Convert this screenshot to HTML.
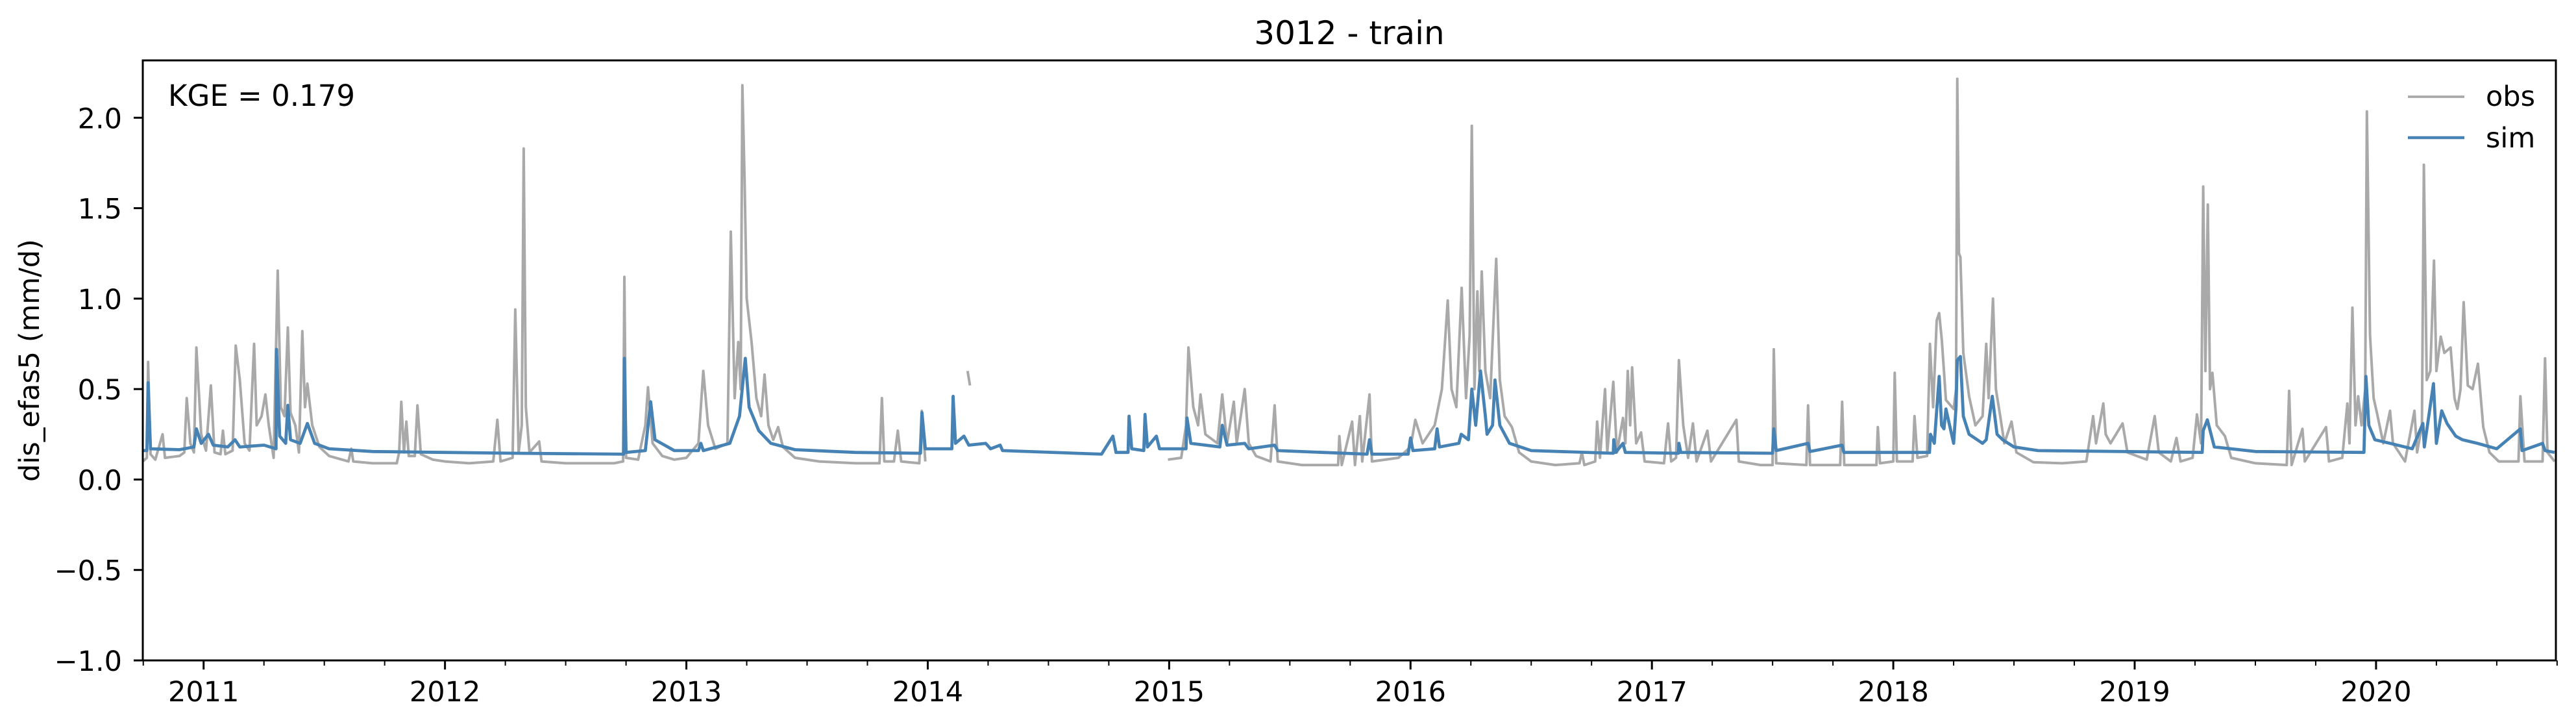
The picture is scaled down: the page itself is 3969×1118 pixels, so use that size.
<!DOCTYPE html>
<html><head><meta charset="utf-8"><style>
html,body{margin:0;padding:0;background:#fff;}
svg{display:block;font-family:"DejaVu Sans","Liberation Sans",sans-serif;}
</style></head><body>
<svg id="chart" width="3969" height="1118" viewBox="0 0 3969 1118" xmlns="http://www.w3.org/2000/svg">
<rect width="3969" height="1118" fill="#fff"/>
<text x="2079" y="68" font-size="50" text-anchor="middle">3012 - train</text>
<text transform="translate(60,555) rotate(-90)" font-size="43" text-anchor="middle">dis_efas5 (mm/d)</text>
<g id="plot"></g>
<g id="axes"></g>
<text x="259" y="163" font-size="45">KGE = 0.179</text>
<g>
<line x1="3710" y1="149" x2="3797" y2="149" stroke="#a9a9a9" stroke-width="3.8"/>
<text x="3830" y="163" font-size="43">obs</text>
<line x1="3710" y1="212" x2="3797" y2="212" stroke="#4682b4" stroke-width="4.5"/>
<text x="3830" y="227" font-size="43">sim</text>
</g>
</svg>
<script>
const yTicks=[-1.0,-0.5,0.0,0.5,1.0,1.5,2.0];
const yTickLabels=["−1.0","−0.5","0.0","0.5","1.0","1.5","2.0"];
const xYears=[2011,2012,2013,2014,2015,2016,2017,2018,2019,2020];
const xYearLabels=["2011","2012","2013","2014","2015","2016","2017","2018","2019","2020"];
const obsDates=[2010.748,2010.765,2010.770,2010.78,2010.8,2010.83,2010.84,2010.9,2010.92,2010.93,2010.945,2010.96,2010.97,2010.99,2011.01,2011.03,2011.045,2011.07,2011.08,2011.09,2011.12,2011.133,2011.15,2011.17,2011.19,2011.209,2011.22,2011.24,2011.256,2011.27,2011.29,2011.307,2011.32,2011.335,2011.349,2011.36,2011.38,2011.395,2011.409,2011.42,2011.43,2011.45,2011.48,2011.52,2011.6,2011.612,2011.62,2011.7,2011.8,2011.81,2011.819,2011.83,2011.84,2011.85,2011.875,2011.886,2011.9,2011.95,2012.0,2012.1,2012.2,2012.217,2012.23,2012.28,2012.291,2012.305,2012.318,2012.326,2012.335,2012.35,2012.39,2012.4,2012.5,2012.6,2012.7,2012.738,2012.743,2012.75,2012.8,2012.83,2012.841,2012.86,2012.9,2012.95,2013.0,2013.05,2013.07,2013.09,2013.12,2013.17,2013.184,2013.2,2013.215,2013.225,2013.232,2013.241,2013.25,2013.27,2013.29,2013.31,2013.324,2013.34,2013.36,2013.38,2013.4,2013.45,2013.55,2013.7,2013.8,2013.81,2013.82,2013.86,2013.876,2013.89,2013.965,2013.975,2013.99,2014.0,2014.165,2014.175,2014.18,2014.995,2015.05,2015.07,2015.08,2015.1,2015.12,2015.13,2015.15,2015.2,2015.22,2015.24,2015.268,2015.28,2015.313,2015.33,2015.36,2015.42,2015.437,2015.45,2015.55,2015.7,2015.705,2015.715,2015.758,2015.77,2015.79,2015.8,2015.83,2015.84,2015.95,2016.0,2016.02,2016.05,2016.1,2016.13,2016.154,2016.17,2016.19,2016.212,2016.23,2016.245,2016.254,2016.265,2016.277,2016.285,2016.295,2016.31,2016.33,2016.355,2016.37,2016.39,2016.42,2016.45,2016.5,2016.6,2016.7,2016.71,2016.72,2016.765,2016.773,2016.785,2016.806,2016.815,2016.84,2016.855,2016.88,2016.89,2016.9,2016.91,2016.918,2016.935,2016.955,2016.97,2017.05,2017.067,2017.08,2017.1,2017.112,2017.13,2017.15,2017.17,2017.185,2017.23,2017.245,2017.35,2017.36,2017.45,2017.5,2017.505,2017.515,2017.64,2017.647,2017.655,2017.78,2017.788,2017.797,2017.93,2017.936,2017.945,2018.0,2018.006,2018.015,2018.08,2018.088,2018.1,2018.14,2018.152,2018.165,2018.18,2018.19,2018.201,2018.218,2018.25,2018.26,2018.265,2018.272,2018.278,2018.29,2018.314,2018.34,2018.37,2018.385,2018.395,2018.413,2018.425,2018.443,2018.46,2018.49,2018.51,2018.58,2018.7,2018.8,2018.828,2018.84,2018.87,2018.88,2018.9,2018.95,2018.97,2019.05,2019.083,2019.1,2019.15,2019.173,2019.19,2019.24,2019.258,2019.275,2019.284,2019.293,2019.303,2019.312,2019.322,2019.34,2019.374,2019.4,2019.5,2019.63,2019.64,2019.65,2019.695,2019.705,2019.793,2019.805,2019.86,2019.881,2019.89,2019.902,2019.915,2019.926,2019.94,2019.955,2019.962,2019.975,2019.99,2020.005,2020.03,2020.058,2020.07,2020.12,2020.159,2020.17,2020.19,2020.198,2020.21,2020.225,2020.24,2020.25,2020.268,2020.283,2020.309,2020.325,2020.337,2020.35,2020.363,2020.38,2020.4,2020.422,2020.444,2020.47,2020.508,2020.59,2020.598,2020.615,2020.69,2020.7,2020.71,2020.74];
const obsValues=[0.1,0.12,0.65,0.14,0.11,0.25,0.12,0.13,0.15,0.45,0.2,0.15,0.73,0.25,0.16,0.52,0.15,0.14,0.27,0.14,0.16,0.74,0.55,0.2,0.16,0.75,0.3,0.35,0.47,0.3,0.12,1.155,0.4,0.35,0.84,0.37,0.3,0.15,0.82,0.4,0.53,0.3,0.18,0.13,0.1,0.17,0.1,0.09,0.09,0.15,0.43,0.15,0.32,0.13,0.13,0.41,0.14,0.11,0.1,0.09,0.1,0.33,0.1,0.12,0.94,0.15,0.3,1.83,0.4,0.15,0.21,0.1,0.09,0.09,0.09,0.1,1.12,0.12,0.11,0.3,0.51,0.2,0.13,0.11,0.12,0.2,0.6,0.3,0.17,0.2,1.37,0.45,0.76,0.5,2.18,1.66,1.0,0.76,0.45,0.35,0.58,0.3,0.22,0.29,0.18,0.12,0.1,0.09,0.09,0.45,0.1,0.1,0.27,0.1,0.09,0.38,0.1,null,0.6,0.52,null,0.11,0.12,0.3,0.73,0.4,0.3,0.47,0.25,0.2,0.47,0.2,0.43,0.2,0.5,0.2,0.13,0.1,0.41,0.1,0.08,0.08,0.24,0.08,0.32,0.08,0.35,0.1,0.47,0.1,0.12,0.18,0.33,0.2,0.3,0.5,0.99,0.5,0.4,1.06,0.45,0.8,1.955,0.5,1.04,0.6,1.15,0.6,0.45,1.22,0.55,0.35,0.29,0.15,0.1,0.08,0.09,0.15,0.08,0.1,0.32,0.12,0.5,0.15,0.54,0.15,0.34,0.2,0.6,0.3,0.62,0.2,0.26,0.1,0.09,0.31,0.1,0.12,0.66,0.3,0.12,0.31,0.1,0.27,0.1,0.33,0.1,0.08,0.08,0.72,0.09,0.08,0.41,0.08,0.08,0.43,0.08,0.08,0.29,0.09,0.1,0.59,0.1,0.1,0.35,0.12,0.13,0.75,0.4,0.88,0.92,0.77,0.44,0.39,0.5,2.215,1.25,1.23,0.7,0.46,0.3,0.35,0.75,0.45,1.0,0.5,0.35,0.2,0.32,0.15,0.096,0.09,0.1,0.35,0.2,0.42,0.25,0.2,0.31,0.15,0.11,0.35,0.15,0.1,0.23,0.1,0.12,0.36,0.2,1.62,0.6,1.52,0.5,0.59,0.3,0.24,0.12,0.09,0.08,0.49,0.08,0.28,0.1,0.29,0.1,0.12,0.42,0.2,0.95,0.3,0.46,0.3,0.5,2.035,0.8,0.45,0.36,0.2,0.38,0.2,0.1,0.38,0.15,0.3,1.74,0.55,0.6,1.21,0.6,0.79,0.7,0.73,0.45,0.39,0.5,0.98,0.52,0.5,0.64,0.29,0.15,0.1,0.1,0.46,0.1,0.1,0.67,0.15,0.1];
const simDates=[2010.748,2010.765,2010.77,2010.78,2010.9,2010.96,2010.97,2010.99,2011.02,2011.04,2011.1,2011.13,2011.15,2011.25,2011.3,2011.302,2011.315,2011.34,2011.349,2011.36,2011.4,2011.43,2011.46,2011.52,2011.7,2012.0,2012.3,2012.74,2012.743,2012.75,2012.83,2012.852,2012.87,2012.95,2013.05,2013.06,2013.07,2013.18,2013.22,2013.244,2013.26,2013.3,2013.35,2013.45,2013.7,2013.97,2013.976,2013.99,2014.1,2014.105,2014.115,2014.15,2014.17,2014.24,2014.26,2014.3,2014.31,2014.72,2014.767,2014.78,2014.83,2014.834,2014.845,2014.895,2014.9,2014.91,2014.947,2014.96,2015.07,2015.074,2015.09,2015.21,2015.22,2015.24,2015.313,2015.33,2015.437,2015.45,2015.82,2015.83,2015.84,2015.99,2016.0,2016.01,2016.1,2016.11,2016.12,2016.2,2016.21,2016.24,2016.254,2016.27,2016.29,2016.31,2016.317,2016.34,2016.35,2016.37,2016.41,2016.5,2016.84,2016.842,2016.85,2016.88,2016.89,2017.11,2017.112,2017.12,2017.5,2017.505,2017.515,2017.647,2017.655,2017.788,2017.795,2018.15,2018.154,2018.17,2018.19,2018.2,2018.21,2018.218,2018.25,2018.26,2018.265,2018.278,2018.29,2018.314,2018.37,2018.385,2018.41,2018.43,2018.453,2018.5,2018.6,2019.28,2019.284,2019.301,2019.33,2019.5,2019.95,2019.958,2019.97,2019.995,2020.058,2020.15,2020.194,2020.2,2020.238,2020.25,2020.272,2020.294,2020.33,2020.358,2020.42,2020.5,2020.598,2020.605,2020.69,2020.7,2020.74];
const simValues=[0.16,0.16,0.535,0.17,0.165,0.18,0.28,0.2,0.25,0.19,0.18,0.22,0.18,0.19,0.17,0.72,0.24,0.2,0.41,0.22,0.2,0.31,0.2,0.17,0.155,0.15,0.145,0.14,0.67,0.15,0.16,0.43,0.22,0.16,0.16,0.2,0.16,0.2,0.35,0.67,0.4,0.27,0.2,0.165,0.15,0.145,0.37,0.17,0.17,0.46,0.2,0.24,0.19,0.2,0.17,0.19,0.16,0.14,0.24,0.15,0.15,0.35,0.17,0.16,0.36,0.18,0.24,0.17,0.17,0.34,0.2,0.18,0.3,0.19,0.2,0.17,0.19,0.16,0.14,0.22,0.14,0.14,0.23,0.16,0.17,0.28,0.18,0.2,0.25,0.22,0.5,0.3,0.6,0.35,0.25,0.3,0.55,0.3,0.2,0.16,0.145,0.22,0.15,0.2,0.15,0.145,0.2,0.15,0.145,0.28,0.16,0.2,0.155,0.19,0.15,0.15,0.25,0.2,0.57,0.3,0.28,0.39,0.2,0.4,0.66,0.68,0.35,0.25,0.2,0.22,0.46,0.25,0.22,0.18,0.16,0.15,0.27,0.33,0.18,0.155,0.15,0.57,0.3,0.22,0.2,0.17,0.31,0.18,0.53,0.2,0.38,0.31,0.24,0.22,0.2,0.17,0.28,0.16,0.2,0.16,0.15];

const L=220,R=3938,T=93,B=1017;
const X0=2010.748,X1=2020.745,YMIN=-1.0,YMAX=2.317;
function xs(t){return L+(t-X0)/(X1-X0)*(R-L);}
function ys(v){return B-(v-YMIN)/(YMAX-YMIN)*(B-T);}
const NS="http://www.w3.org/2000/svg";
const plot=document.getElementById('plot');
const axes=document.getElementById('axes');
function mk(tag,attrs,parent){const e=document.createElementNS(NS,tag);for(const k in attrs)e.setAttribute(k,attrs[k]);parent.appendChild(e);return e;}
function pathFrom(dates,vals){let d="",pen=false;for(let i=0;i<dates.length;i++){const v=vals[i];if(v===null||v===undefined){pen=false;continue;}d+=(pen?"L":"M")+xs(dates[i]).toFixed(1)+","+ys(v).toFixed(1);pen=true;}return d;}
const obsPath=mk('path',{d:pathFrom(obsDates,obsValues),fill:'none',stroke:'#a9a9a9','stroke-width':4,'stroke-linejoin':'round'},plot);


const simPath=mk('path',{d:pathFrom(simDates,simValues),fill:'none',stroke:'#4682b4','stroke-width':4.8,'stroke-linejoin':'round'},plot);


const frame=mk('rect',{x:L,y:T,width:R-L,height:B-T,fill:'none',stroke:'#000','stroke-width':3},axes);


yTicks.forEach((v,i)=>{const y=ys(v);
 const tk=mk('line',{x1:L-14,y1:y,x2:L,y2:y,stroke:'#000','stroke-width':3},axes);
 
 
 const tl=mk('text',{x:188,y:y+16,'font-size':43,'text-anchor':'end'},axes);
 tl.textContent=yTickLabels[i];
 
 });
xYears.forEach((yr,i)=>{const x=xs(yr);
 const tk=mk('line',{x1:x,y1:B,x2:x,y2:B+14,stroke:'#000','stroke-width':3},axes);
 
 
 const tl=mk('text',{x:x,y:1080,'font-size':43,'text-anchor':'middle'},axes);
 tl.textContent=xYearLabels[i];
 
 });
for(let yr=2010;yr<=2020;yr++){[0.25,0.5,0.75].forEach(q=>{const t=yr+q;if(t<X0-0.01||t>X1+0.01)return;const x=xs(t);
 const mt=mk('line',{x1:x,y1:B,x2:x,y2:B+8,stroke:'#000','stroke-width':2},axes);
 
 });}
</script>
</body></html>
